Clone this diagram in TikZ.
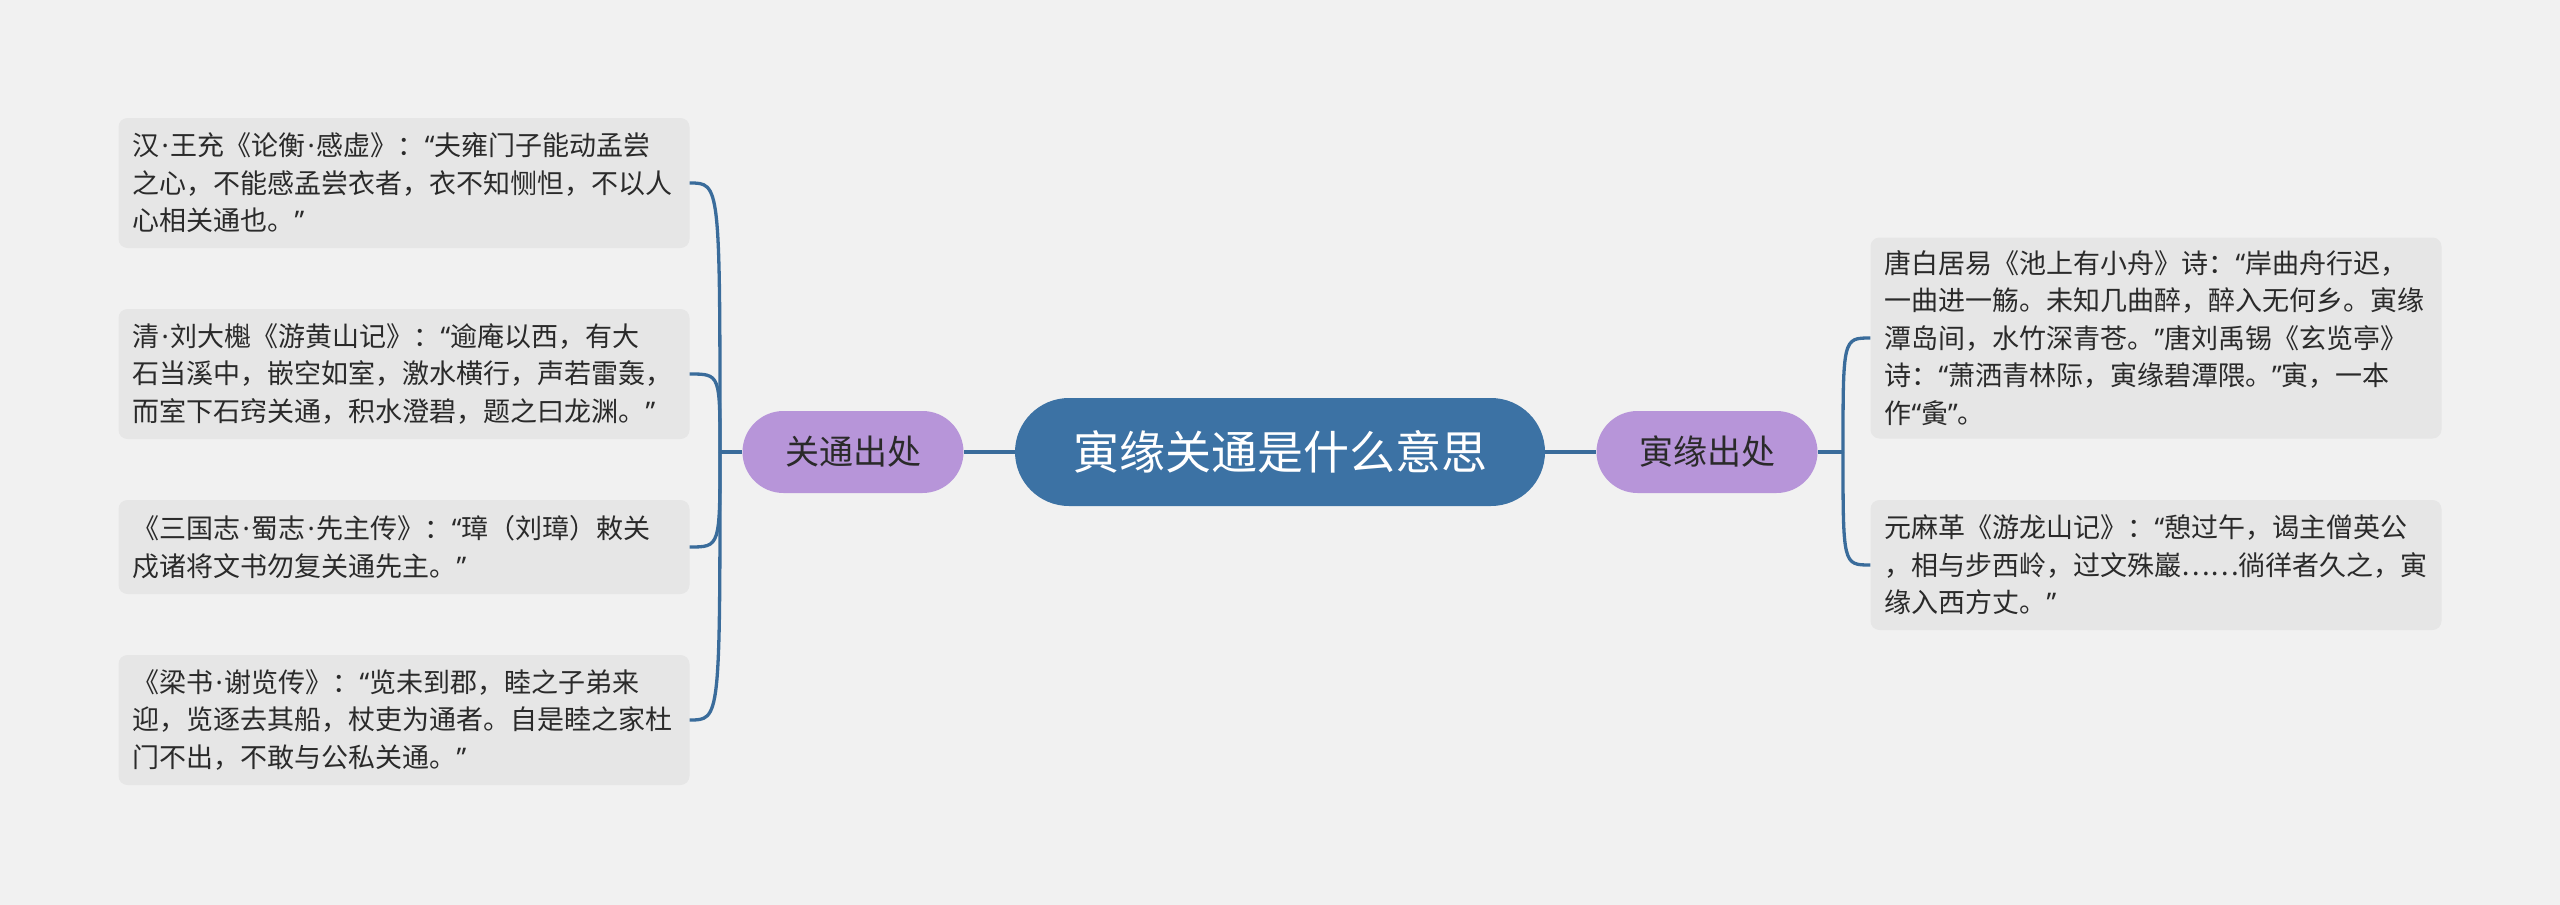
\documentclass[tikz,border=0pt]{standalone}
\usepackage{fontspec}
\newfontfamily\cjk{Noto Sans CJK SC}
\newfontfamily\latf{Noto Sans}
\newcommand{\mydot}{{\latf\kern2pt·\kern2pt}}
\newcommand{\myoq}{{\latf “}}
\newcommand{\mycq}{{\latf ”}}
\definecolor{bgc}{HTML}{F1F1F1}
\definecolor{leafc}{HTML}{E6E6E6}
\definecolor{rootc}{HTML}{3C72A4}
\definecolor{subc}{HTML}{B795D9}
\definecolor{linec}{HTML}{3A6C9B}
\definecolor{textc}{HTML}{2A2A2A}
\begin{document}
\begin{tikzpicture}[x=1pt,y=-1pt,
  leaf/.style={fill=leafc, rounded corners=9pt, text width=543pt, align=left,
    inner xsep=14pt, inner ysep=0pt, text=textc,
    font=\cjk\fontsize{27}{37.5}\selectfont},
  rootbox/.style={fill=rootc, rounded corners=54pt, minimum width=530pt,
    minimum height=108pt, text=white, inner sep=0pt,
    font=\cjk\fontsize{46}{52}\selectfont},
  subbox/.style={fill=subc, rounded corners=41pt, minimum width=221pt,
    minimum height=82pt, text=textc, inner sep=0pt,
    font=\cjk\fontsize{34}{40}\selectfont},
  conn/.style={draw=linec, line width=3.3pt}]
\useasboundingbox (0,0) rectangle (2560,905);
\fill[bgc] (0,0) rectangle (2560,905);

\node[rootbox] (root) at (1280,452) {寅缘关通是什么意思};
\node[subbox] (subL) at (853,452) {关通出处};
\node[subbox] (subR) at (1707,452) {寅缘出处};

\node[leaf, minimum height=130pt] (l1) at (404,183) {汉\mydot 王充《论衡\mydot 感虚》：\myoq 夫雍门子能动孟尝\\之心，不能感孟尝衣者，衣不知恻怛，不以人\\心相关通也。\mycq};
\node[leaf, minimum height=130pt] (l2) at (404,374) {清\mydot 刘大櫆《游黄山记》：\myoq 逾庵以西，有大\\石当溪中，嵌空如室，激水横行，声若雷轰，\\而室下石窍关通，积水澄碧，题之曰龙渊。\mycq};
\node[leaf, minimum height=94pt] (l3) at (404,547) {《三国志\mydot 蜀志\mydot 先主传》：\myoq 璋（刘璋）敕关\\戍诸将文书勿复关通先主。\mycq};
\node[leaf, minimum height=130pt] (l4) at (404,720) {《梁书\mydot 谢览传》：\myoq 览未到郡，睦之子弟来\\迎，览逐去其船，杖吏为通者。自是睦之家杜\\门不出，不敢与公私关通。\mycq};

\node[leaf, minimum height=201pt] (r1) at (2156,338) {唐白居易《池上有小舟》诗：\myoq 岸曲舟行迟，\\一曲进一觞。未知几曲醉，醉入无何乡。寅缘\\潭岛间，水竹深青苍。\mycq 唐刘禹锡《玄览亭》\\诗：\myoq 萧洒青林际，寅缘碧潭隈。\mycq 寅，一本\\作\myoq 夤\mycq 。};
\node[leaf, minimum height=130pt] (r2) at (2156,565) {元麻革《游龙山记》：\myoq 憩过午，谒主僧英公\\，相与步西岭，过文殊巖……徜徉者久之，寅\\缘入西方丈。\mycq};

\coordinate (bL) at (720,452);
\coordinate (bR) at (1843,452);

\draw[conn] (root.west) -- (subL.east);
\draw[conn] (root.east) -- (subR.west);
\draw[conn] (subL.west) -- (bL);
\draw[conn] (subR.east) -- (bR);
\foreach \n in {l1,l2,l3,l4}
  \draw[conn] (bL) .. controls (bL |- \n.east) .. (\n.east);
\foreach \n in {r1,r2}
  \draw[conn] (bR) .. controls (bR |- \n.west) .. (\n.west);
\end{tikzpicture}
\end{document}
